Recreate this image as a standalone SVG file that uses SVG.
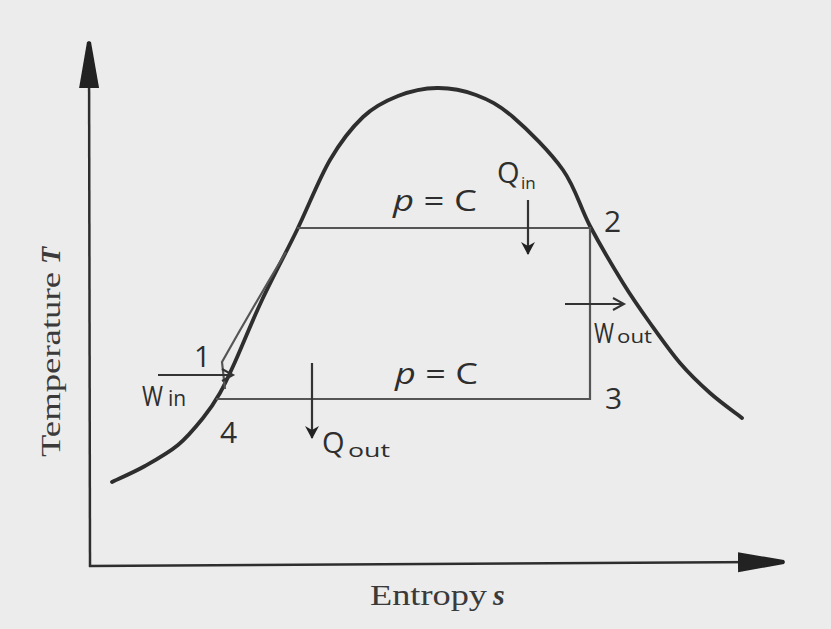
<svg xmlns="http://www.w3.org/2000/svg" width="831" height="629" viewBox="0 0 831 629">
<style>
.axis{stroke:#2e2e2e;stroke-width:2.5;fill:none}
.dome{stroke:#2e2e2e;stroke-width:3.8;fill:none;stroke-linecap:round}
.proc{stroke:#555;stroke-width:2.2;fill:none}
.flow{stroke:#333;stroke-width:2.2;fill:none}
.serif{font-family:"Liberation Serif","Times New Roman",serif;fill:#3a3a3a}
.hand{font-family:"Open Sans","DejaVu Sans",sans-serif;fill:#2e2e2e}
</style>
<defs>
<marker id="axisHead" markerUnits="userSpaceOnUse" markerWidth="50" markerHeight="22" refX="46" refY="11" orient="auto">
<path d="M0,1 L46,9 L47,11 L46,13 L0,21 z" fill="#222"/>
</marker>
<marker id="barb" markerUnits="userSpaceOnUse" markerWidth="16" markerHeight="16" refX="12" refY="7" orient="auto">
<path d="M0,0 L13,7 L0,14 L4,7 z" fill="#222"/>
</marker>
<marker id="chev" markerUnits="userSpaceOnUse" markerWidth="16" markerHeight="16" refX="12" refY="7" orient="auto">
<path d="M1,1 L12,7 L1,13" fill="none" stroke="#333" stroke-width="2"/>
</marker>
</defs>
<rect x="0" y="0" width="831" height="629" fill="#ececec"/>
<g id="axes">
<path class="axis" d="M90,567 L89,42" marker-end="url(#axisHead)"/>
<path class="axis" d="M89,566 L784,562" marker-end="url(#axisHead)"/>
</g>
<g id="dome">
<path class="dome" d="M112,482 C117.5,479.3 134,472.2 145,466 C156,459.8 168.3,453 178,445 C187.7,437 196,426.7 203,418 C210,409.3 214.7,402.3 220,393 C225.3,383.7 228,377.5 235,362 C242,346.5 251.7,322 262,300 C272.3,278 285.7,253.3 297,230 C308.3,206.7 319,178.8 330,160 C341,141.2 351.7,127.7 363,117 C374.3,106.3 385.7,100.8 398,96 C410.3,91.2 424,88.2 437,88 C450,87.8 463.3,90.2 476,95 C488.7,99.8 498.5,104.5 513,117 C527.5,129.5 550.2,151.8 563,170 C575.8,188.2 580,207.2 590,226 C600,244.8 613,266.8 623,283 C633,299.2 640.5,309.7 650,323 C659.5,336.3 670,351.3 680,363 C690,374.7 699.7,383.8 710,393 C720.3,402.2 736.7,413.8 742,418"/>
</g>
<g id="cycle">
<path class="proc" d="M297,228 L590,228 L590,399 L216,399"/>
<path class="proc" d="M225,389 L222,362 C240,330 262,292 286,252" stroke-width="1.8"/>
</g>
<g id="flows">
<path class="flow" d="M158,375 L233,375" marker-end="url(#chev)"/>
<path class="flow" d="M565,304 L624,304" marker-end="url(#chev)"/>
<path class="flow" d="M528,200 L528,254" marker-end="url(#barb)"/>
<path class="flow" d="M312,363 L312,438" marker-end="url(#barb)"/>
</g>
<g id="labels">
<text class="serif" transform="translate(60,457) rotate(-90)" font-size="28"><tspan x="0" y="0" textLength="185" lengthAdjust="spacingAndGlyphs">Temperature</tspan></text>
<text class="serif" transform="translate(60,457) rotate(-90)" x="193" y="0" font-size="28" font-weight="bold" font-style="italic">T</text>
<text class="serif" x="370" y="605" font-size="30" textLength="117" lengthAdjust="spacingAndGlyphs">Entropy</text>
<text class="serif" x="493" y="605" font-size="30" font-weight="bold" font-style="italic">s</text>
<text class="hand" x="393" y="211" font-size="30" textLength="84" lengthAdjust="spacingAndGlyphs"><tspan font-style="italic">p</tspan> = C</text>
<text class="hand" x="395" y="384" font-size="30" textLength="83" lengthAdjust="spacingAndGlyphs"><tspan font-style="italic">p</tspan> = C</text>
<text class="hand" x="497" y="183" font-size="29">Q</text>
<text class="hand" x="521" y="189" font-size="17">in</text>
<text class="hand" x="322" y="453" font-size="29">Q</text>
<text class="hand" x="348" y="457" font-size="19" textLength="42" lengthAdjust="spacingAndGlyphs">out</text>
<text class="hand" x="142" y="406" font-size="27" textLength="21" lengthAdjust="spacingAndGlyphs">W</text>
<text class="hand" x="168" y="406" font-size="21">in</text>
<text class="hand" x="594" y="343" font-size="28" textLength="20" lengthAdjust="spacingAndGlyphs">W</text>
<text class="hand" x="617" y="343" font-size="19" textLength="35" lengthAdjust="spacingAndGlyphs">out</text>
<text class="hand" x="194" y="367" font-size="29">1</text>
<text class="hand" x="604" y="232" font-size="30">2</text>
<text class="hand" x="605" y="409" font-size="30">3</text>
<text class="hand" x="220" y="443" font-size="30">4</text>
</g>
</svg>
